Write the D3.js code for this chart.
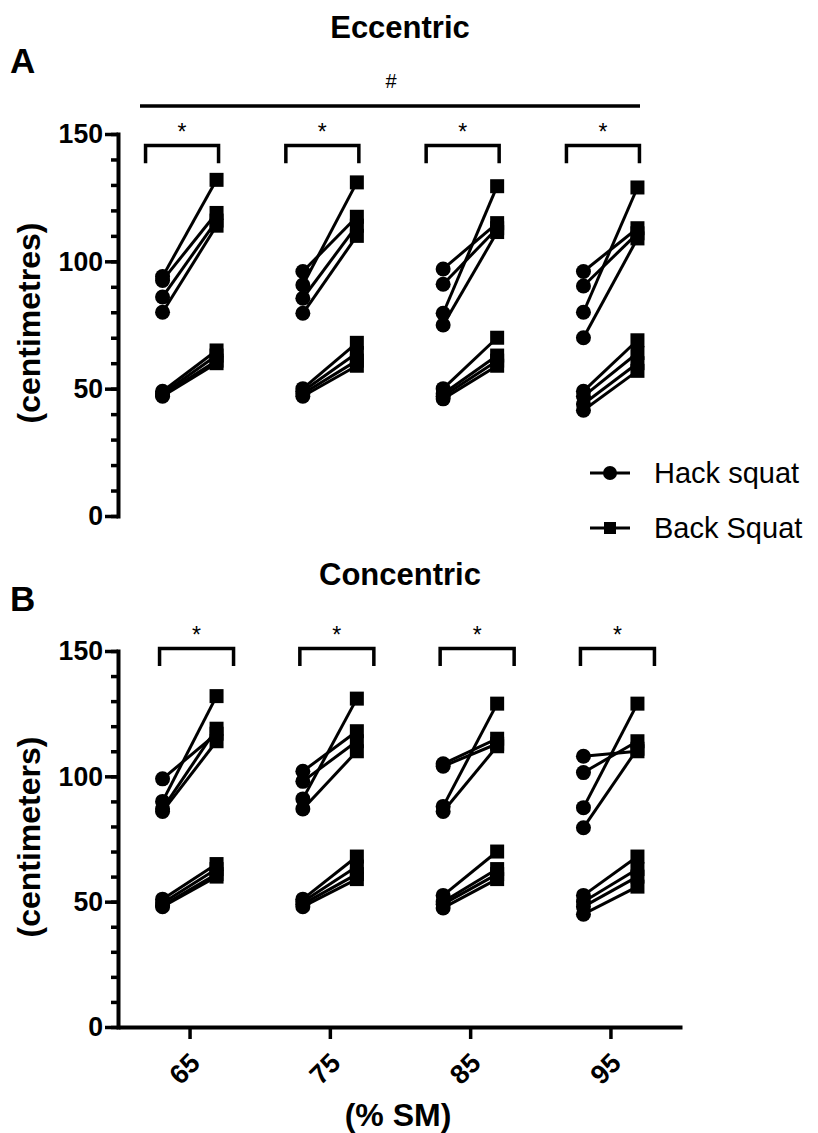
<!DOCTYPE html>
<html>
<head>
<meta charset="utf-8">
<script src="https://cdn.jsdelivr.net/npm/d3@7"></script>
<style>
  body { margin: 0; background: #fff; }
  svg { display: block; }
  text { font-family: "Liberation Sans", Arial, sans-serif; fill: #000; }
</style>
</head>
<body>
<svg id="chart" width="818" height="1133"></svg>
<script>
// categories
const doses = ["65", "75", "85", "95"];
const exercises = ["Hack squat", "Back Squat"];
const majorTicks = [0, 50, 100, 150];

// eccentric displacement (cm), one inner array per %SM, one value per subject
const eccHack = [
  [94, 92.5, 86, 80, 49, 48, 47.5, 47],
  [96, 90.7, 85.5, 79.6, 50, 49, 48, 47],
  [97, 91, 79.6, 75, 50, 48, 47, 46],
  [96, 90.3, 80, 70, 49, 47, 44, 41.5]
];
const eccBack = [
  [132, 119, 116, 114, 65, 63, 61, 60],
  [117.5, 131, 114, 110, 68, 64, 61, 59],
  [115, 113, 129.5, 111.5, 70, 63, 61, 59],
  [113, 111, 129, 109, 69, 64, 60, 57]
];

// concentric displacement (cm)
const conHack = [
  [99, 90, 87, 86, 51, 49.5, 48.5, 48],
  [102, 98, 91, 87, 51, 50, 49, 48],
  [105, 104, 88, 86, 52.5, 50, 49, 47.5],
  [108, 101.5, 87.5, 79.5, 52.5, 50, 48, 45]
];
const conBack = [
  [117, 132, 119, 114, 65, 63, 61, 60],
  [118, 114, 131, 110, 68, 64, 61, 59],
  [115, 113, 129, 112, 70, 63, 61, 59],
  [110, 114, 129, 111, 68, 63, 60, 56]
];

const svg = d3.select("#chart");

const x = d3.scalePoint().domain(doses).range([118, 682]).padding(0.51);
const xSub = d3.scalePoint().domain(exercises).range([-27, 27]);

function drawPanel(opt) {
  const y = d3.scaleLinear().domain([0, 150]).range([opt.bottom, opt.top]);
  const g = svg.append("g");

  // minor ticks every 10
  g.append("g")
    .attr("transform", "translate(118,0)")
    .call(d3.axisLeft(y).tickValues(d3.range(0, 151, 10)).tickSize(7).tickSizeOuter(0).tickFormat(""))
    .call(s => s.select(".domain").remove())
    .selectAll("line").attr("stroke-width", 3.5);

  // major ticks + labels
  const ya = g.append("g")
    .attr("transform", "translate(118,0)")
    .call(d3.axisLeft(y).tickValues(majorTicks).tickSize(13).tickSizeOuter(0).tickPadding(2));
  ya.select(".domain").attr("stroke-width", 4).attr("stroke-linecap", "square");
  ya.selectAll("line").attr("stroke-width", 3.5);
  ya.selectAll("text")
    .style("font-weight", "bold")
    .style("font-size", "28px")
    .attr("textLength", function () { return this.getComputedTextLength() * 0.95; })
    .attr("lengthAdjust", "spacingAndGlyphs");

  g.append("text")
    .attr("transform", `translate(40,${(opt.top + opt.bottom) / 2 - 2}) rotate(-90)`)
    .attr("text-anchor", "middle")
    .style("font-weight", "bold")
    .style("font-size", "32px")
    .text(opt.ylabel);

  // subject lines
  opt.hack.forEach((vals, di) => {
    const d = doses[di];
    const x0 = x(d) + xSub(exercises[0]);
    const x1 = x(d) + xSub(exercises[1]);
    g.append("g").selectAll("line")
      .data(vals.map((v, i) => [v, opt.back[di][i]]))
      .join("line")
      .attr("x1", x0).attr("x2", x1)
      .attr("y1", p => y(p[0])).attr("y2", p => y(p[1]))
      .attr("stroke", "#000").attr("stroke-width", 3);

    g.append("g").selectAll("circle")
      .data(vals)
      .join("circle")
      .attr("cx", x0).attr("cy", v => y(v)).attr("r", 7.5);

    g.append("g").selectAll("rect")
      .data(opt.back[di])
      .join("rect")
      .attr("x", x1 - 7).attr("y", v => y(v) - 7)
      .attr("width", 14).attr("height", 14);

    // significance bracket
    const bx0 = x(d) + opt.br[0], bx1 = x(d) + opt.br[1];
    const by = y(opt.brTop), byl = y(opt.brLeg);
    g.append("path")
      .attr("d", `M${bx0},${byl}V${by}H${bx1}V${byl}`)
      .attr("fill", "none").attr("stroke", "#000").attr("stroke-width", 3.5);
    g.append("text")
      .attr("x", (bx0 + bx1) / 2).attr("y", by - 5)
      .attr("text-anchor", "middle")
      .style("font-size", "23px")
      .text("*");
  });

  g.append("text")
    .attr("x", 400).attr("y", opt.titleY)
    .attr("text-anchor", "middle")
    .style("font-weight", "bold").style("font-size", "31px")
    .text(opt.title);

  g.append("text")
    .attr("x", 10).attr("y", opt.letterY)
    .style("font-weight", "bold").style("font-size", "35px")
    .text(opt.letter);

  return y;
}

const yA = drawPanel({
  top: 134, bottom: 516,
  hack: eccHack, back: eccBack,
  ylabel: "(centimetres)", title: "Eccentric", titleY: 38,
  letter: "A", letterY: 73,
  br: [-44, 29], brTop: 145.5, brLeg: 138.5
});

// overall effect line
svg.append("line")
  .attr("x1", 140).attr("x2", 640)
  .attr("y1", 106).attr("y2", 106)
  .attr("stroke", "#000").attr("stroke-width", 3.5);
svg.append("text")
  .attr("x", 391).attr("y", 88)
  .attr("text-anchor", "middle")
  .style("font-size", "20px")
  .text("#");

const yB = drawPanel({
  top: 651, bottom: 1027,
  hack: conHack, back: conBack,
  ylabel: "(centimeters)", title: "Concentric", titleY: 585,
  letter: "B", letterY: 611,
  br: [-30, 44], brTop: 151, brLeg: 144
});

// x axis (panel B only)
const xa = svg.append("g")
  .attr("transform", "translate(0,1027)")
  .call(d3.axisBottom(x).tickSize(12).tickSizeOuter(0));
xa.select(".domain").attr("stroke-width", 4);
xa.selectAll("line").attr("stroke-width", 3.5);
xa.selectAll("text")
  .attr("y", 0).attr("dy", "0.35em")
  .attr("transform", "translate(5,31) rotate(-45)")
  .attr("text-anchor", "end")
  .style("font-weight", "bold")
  .style("font-size", "27px");

svg.append("text")
  .attr("x", 398).attr("y", 1126)
  .attr("text-anchor", "middle")
  .style("font-weight", "bold").style("font-size", "32px")
  .text("(% SM)");

// legend
const legend = svg.append("g").selectAll("g")
  .data(exercises)
  .join("g")
  .attr("transform", (d, i) => `translate(590,${473 + i * 55})`);
legend.append("line")
  .attr("x1", 0).attr("x2", 40)
  .attr("stroke", "#000").attr("stroke-width", 3);
legend.filter((d, i) => i === 0).append("circle").attr("cx", 20).attr("r", 7);
legend.filter((d, i) => i === 1).append("rect").attr("x", 14).attr("y", -6).attr("width", 12).attr("height", 12);
legend.append("text")
  .attr("x", 64).attr("dy", "0.35em")
  .style("font-size", "29px")
  .text(d => d);
</script>
</body>
</html>
